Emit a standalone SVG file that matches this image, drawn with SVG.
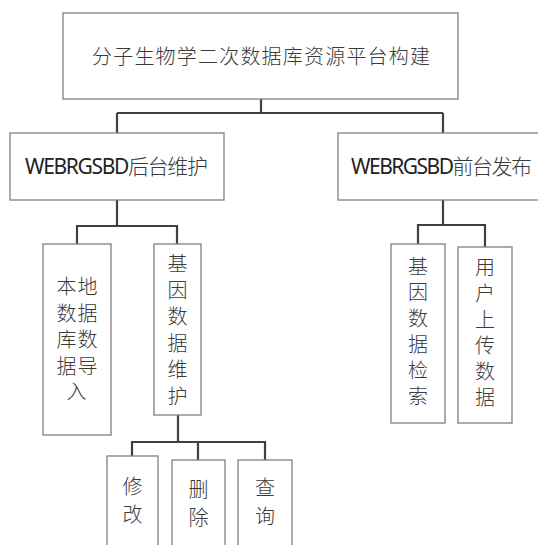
<svg xmlns="http://www.w3.org/2000/svg" width="538" height="545" viewBox="0 0 538 545">
<style>
.box{fill:#ffffff;stroke:#808080;stroke-width:1.3}
.con{fill:none;stroke:#404040;stroke-width:2.2}
.t{font-family:"Noto Sans","Noto Sans CJK SC",sans-serif;font-size:20px;font-weight:300;fill:#3a3a3a}
.lat{font-weight:400;fill:#222222}
.v{text-anchor:middle}
</style>
<rect width="538" height="545" fill="#ffffff"/>
<g id="connectors">
<path class="con" d="M261,99 V113 M117,113 H443 M117,113 V133 M443,113 V133"/>
<path class="con" d="M117,200 V226 M77,245 V226 H177 V244"/>
<path class="con" d="M443,200 V225 M418,245 V225 H485 V247"/>
<path class="con" d="M178,415 V442 M132,456 V442 H265 V460 M198,442 V460"/>
</g>
<g id="root">
<rect class="box" x="63" y="13" width="395" height="86"/>
<text class="t" x="92" y="63.5" textLength="338" lengthAdjust="spacing">分子生物学二次数据库资源平台构建</text>
</g>
<g id="backend">
<rect class="box" x="10" y="133" width="214" height="67"/>
<text class="t" x="25" y="174" textLength="183" lengthAdjust="spacing" style="font-size:21px"><tspan class="lat">WEBRGSBD</tspan>后台维护</text>
</g>
<g id="frontend">
<rect class="box" x="338" y="133" width="222" height="67"/>
<text class="t" x="351" y="174" textLength="181" lengthAdjust="spacing" style="font-size:21px"><tspan class="lat">WEBRGSBD</tspan>前台发布</text>
</g>
<g id="import">
<rect class="box" x="43" y="244" width="68" height="191"/>
<text class="t v" style="letter-spacing:1px"><tspan x="77.5" y="294">本地</tspan><tspan x="77.5" y="320.5">数据</tspan><tspan x="77.5" y="347">库数</tspan><tspan x="77.5" y="373.5">据导</tspan><tspan x="77" y="399">入</tspan></text>
</g>
<g id="maintain">
<rect class="box" x="154" y="244" width="47" height="171"/>
<text class="t v"><tspan x="177.5" y="271">基</tspan><tspan x="177.5" y="297.5">因</tspan><tspan x="177.5" y="324">数</tspan><tspan x="177.5" y="350.5">据</tspan><tspan x="177.5" y="377">维</tspan><tspan x="177.5" y="403.5">护</tspan></text>
</g>
<g id="search">
<rect class="box" x="391" y="244" width="54" height="179"/>
<text class="t v"><tspan x="418" y="274">基</tspan><tspan x="418" y="300">因</tspan><tspan x="418" y="326">数</tspan><tspan x="418" y="352">据</tspan><tspan x="418" y="378">检</tspan><tspan x="418" y="404">索</tspan></text>
</g>
<g id="upload">
<rect class="box" x="458" y="247" width="54" height="176"/>
<text class="t v"><tspan x="485" y="275">用</tspan><tspan x="485" y="301">户</tspan><tspan x="485" y="327">上</tspan><tspan x="485" y="353">传</tspan><tspan x="485" y="379">数</tspan><tspan x="485" y="405">据</tspan></text>
</g>
<g id="modify">
<rect class="box" x="107" y="456" width="51" height="104"/>
<text class="t v"><tspan x="132.5" y="494">修</tspan><tspan x="132.5" y="522">改</tspan></text>
</g>
<g id="delete">
<rect class="box" x="172" y="460" width="53" height="100"/>
<text class="t v"><tspan x="198.5" y="497">删</tspan><tspan x="198.5" y="525">除</tspan></text>
</g>
<g id="query">
<rect class="box" x="238" y="460" width="54" height="100"/>
<text class="t v"><tspan x="265" y="495">查</tspan><tspan x="265" y="524">询</tspan></text>
</g>
</svg>
